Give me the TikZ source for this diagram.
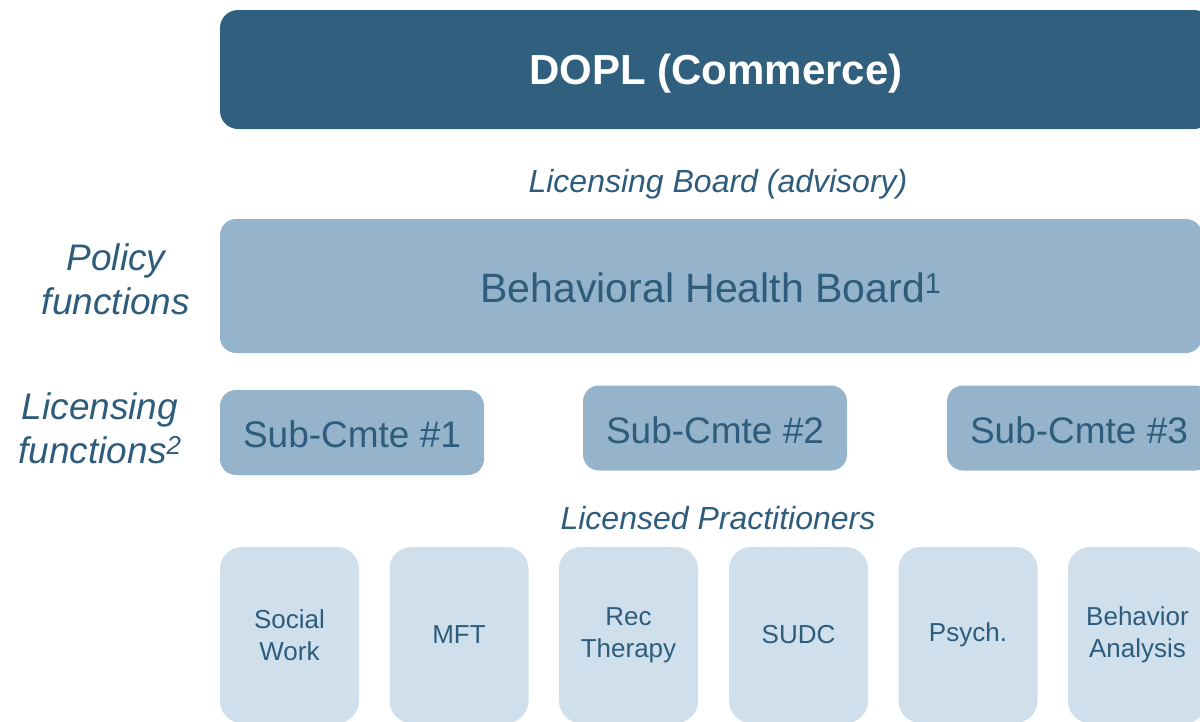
\documentclass[tikz,border=0pt]{standalone}
\usepackage{fontspec}
\setmainfont{Liberation Sans}
\definecolor{dopl-blue}{RGB}{49,95,126}
\definecolor{board-blue}{RGB}{149,179,202}
\definecolor{prac-blue}{RGB}{207,224,236}
\definecolor{text-blue}{RGB}{46,92,124}
\newcommand{\lowertext}[2]{\raisebox{-#1}[\height][\depth]{#2}}
\tikzset{
  box/.style={
    rectangle,
    inner sep=0pt,
    align=center
  },
  box-dark/.style={
    box,
    fill=dopl-blue,
    text=white,
    rounded corners=18pt,
    font=\fontsize{42}{50}\selectfont\bfseries
  },
  box-mid/.style={
    box,
    fill=board-blue,
    text=text-blue,
    rounded corners=16pt
  },
  box-light/.style={
    box,
    fill=prac-blue,
    text=text-blue,
    rounded corners=22pt,
    minimum width=139pt,
    minimum height=176pt,
    font=\fontsize{26}{31.5}\selectfont
  },
  side-label/.style={
    align=center,
    text=text-blue,
    inner sep=0pt,
    font=\fontsize{37}{44}\selectfont\itshape
  },
  level-label/.style={
    align=center,
    text=text-blue,
    inner sep=0pt,
    font=\fontsize{32}{38}\selectfont\itshape
  }
}

\begin{document}
\begin{tikzpicture}[x=1pt,y=-1pt]
  \useasboundingbox (0,0) rectangle (1200,721);
  \clip (0,0) rectangle (1200,721);
  % Top level
  \node[box-dark, minimum width=992pt, minimum height=119pt] (dopl) at (716,69.5) {\lowertext{4pt}{DOPL (Commerce)}};
  \node[level-label] (lic-board) at (718,184) {Licensing Board (advisory)};
  % Board
  \node[box-mid, minimum width=982pt, minimum height=134pt,
        font=\fontsize{41}{49}\selectfont] (bhb) at (711,286) {\lowertext{2pt}{Behavioral Health Board\textsuperscript{1}}};
  \node[side-label] (policy) at (116,279) {Policy\\functions};
  % Sub-committees
  \node[side-label] (licensing) at (100,428) {Licensing\\functions\textsuperscript{2}};
  \foreach \x/\y/\n in {352/432.5/1, 715/428/2, 1079/428/3}{
    \node[box-mid, minimum width=264pt, minimum height=85pt,
          font=\fontsize{37}{44}\selectfont] (sub\n) at (\x,\y) {\lowertext{2pt}{Sub-Cmte \#\n}};
  }
  % Practitioners
  \node[level-label] (lic-prac) at (718,518) {Licensed Practitioners};
  \foreach \x/\n/\txt in {289.5/sw/{Social\\Work}, 459/mft/MFT, 628.5/rec/{Rec\\Therapy},
                          798.5/sudc/SUDC, 968/psych/Psych., 1137.5/ba/{Behavior\\Analysis}}{
    \node[box-light] (prac-\n) at (\x,635) {\txt};
  }
\end{tikzpicture}
\end{document}
